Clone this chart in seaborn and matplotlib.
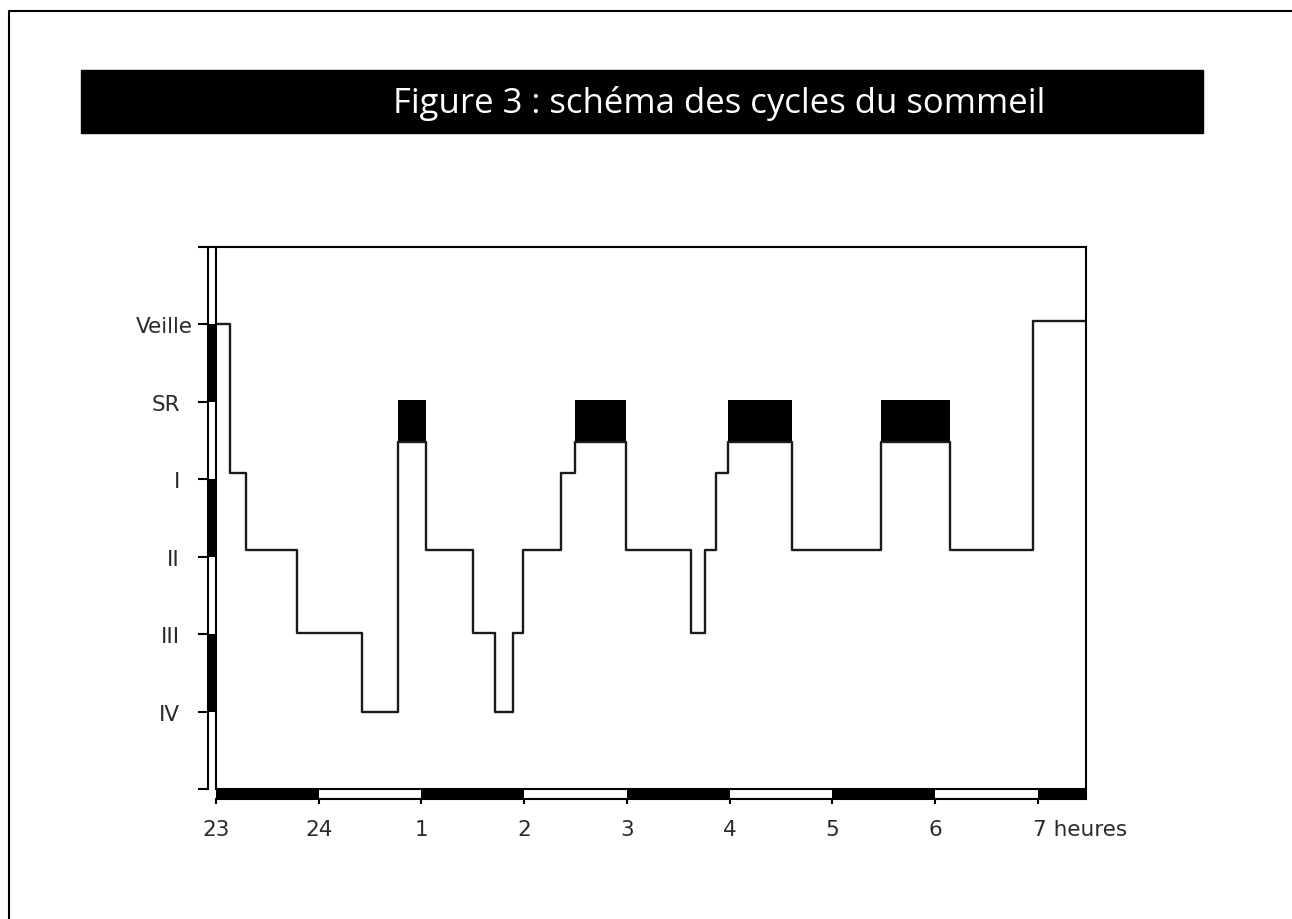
import numpy as np
import pandas as pd
import seaborn as sns
import matplotlib.pyplot as plt
import matplotlib.transforms as mtransforms
from matplotlib.lines import Line2D
from matplotlib.patches import Rectangle

# hypnogramme : debut de chaque stade (heures apres 23 h) et hauteur du stade
t_start = [0.0, 0.136, 0.29, 0.785, 1.418, 1.776, 2.045, 2.50, 2.717, 2.895, 2.986,
           3.359, 3.496, 3.989, 4.622, 4.761, 4.869, 4.988, 5.605, 6.475, 7.147, 7.958, 8.47]
stage = [6.0, 4.08, 3.08, 2.02, 1.0, 4.48, 3.08, 2.02, 1.0, 2.02, 3.08,
         4.08, 4.48, 3.08, 2.02, 3.08, 4.08, 4.48, 3.08, 4.48, 3.08, 6.04, 6.04]

# sommeil paradoxal (blocs noirs)
sr_start = [1.776, 3.496, 4.988, 6.475]
sr_end = [2.045, 3.989, 5.605, 7.147]
sr_low, sr_high = 4.48, 5.03

stage_ticks = [0, 1, 2, 3, 4, 5, 6, 7]
stage_labels = ['', 'IV', 'III', 'II', 'I', 'SR', 'Veille', '']
hour_ticks = [0, 1, 2, 3, 4, 5, 6, 7, 8]
hour_labels = ['23', '24', '1', '2', '3', '4', '5', '6', '7 heures']
black_hours = [0, 2, 4, 6, 8]
black_stages = [1, 3, 5]

sns.set_style('white')
plt.rcParams['font.family'] = ['DejaVu Sans']

fig = plt.figure(figsize=(12.92, 9.2), dpi=100)
W, H = 1292, 920
ax = fig.add_axes([208 / W, 120 / H, 878 / W, 552 / H])

df = pd.DataFrame({'t': t_start, 'stade': stage})
sns.lineplot(data=df, x='t', y='stade', drawstyle='steps-post', color='#1a1a1a',
             lw=1.7, ax=ax)
ax.bar(sr_start, sr_high - sr_low, width=np.array(sr_end) - np.array(sr_start),
       bottom=sr_low, align='edge', color='black', lw=0)

ax.set_xlim(-0.078, 8.47)
ax.set_ylim(-0.13, 7.0)

# bandes alternees le long des axes
ax.barh(black_stages, 0.078, left=-0.078, height=1, align='edge', color='black', lw=0)
ax.bar(black_hours, 0.13, bottom=-0.13, width=1, align='edge', color='black', lw=0)
ax.axvline(0, ymin=0.13 / 7.13, ymax=1, color='black', lw=1.5)
ax.axhline(0, xmin=0.078 / 8.548, xmax=1, color='black', lw=1.5)

for s in ax.spines.values():
    s.set_visible(True)
    s.set_color('black')
    s.set_linewidth(1.5)
ax.spines['left'].set_bounds(0, 7)
ax.spines['bottom'].set_bounds(0, 8.47)

ax.set_yticks(stage_ticks)
ax.set_yticklabels(stage_labels)
ax.set_xticks(hour_ticks)
ax.set_xticklabels(hour_labels)
ax.tick_params(axis='y', left=True, length=7.2, width=1.5, direction='out', pad=13,
               labelsize=15.5, labelcolor='#2a2a2a', color='black')
ax.tick_params(axis='x', bottom=True, length=3.6, width=1.5, direction='out', pad=11,
               labelsize=15.5, labelcolor='#2a2a2a', color='black')
ax.set_xlabel('')
ax.set_ylabel('')

lab = ax.get_yticklabels()[6]
lab.set_transform(lab.get_transform() + mtransforms.ScaledTranslation(0.13, 0, fig.dpi_scale_trans))
lab = ax.get_xticklabels()[-1]
lab.set_ha('left')
lab.set_transform(lab.get_transform() + mtransforms.ScaledTranslation(-0.05, 0, fig.dpi_scale_trans))

# bandeau du titre
fig.patches.append(Rectangle((81 / W, (H - 134) / H), 1122 / W, 63 / H,
                             transform=fig.transFigure, color='black'))
fig.text(719 / W, (H - 113) / H, 'Figure 3 : schéma des cycles du sommeil', color='white',
         ha='center', va='baseline', fontsize=25, family='Open Sans')

# cadre exterieur
fig.add_artist(Line2D([9.3 / W, 9.3 / W, 1], [0, (H - 12.3) / H, (H - 12.3) / H],
                      color='black', lw=1.5, transform=fig.transFigure))

fig.savefig('out.png', dpi=100)
